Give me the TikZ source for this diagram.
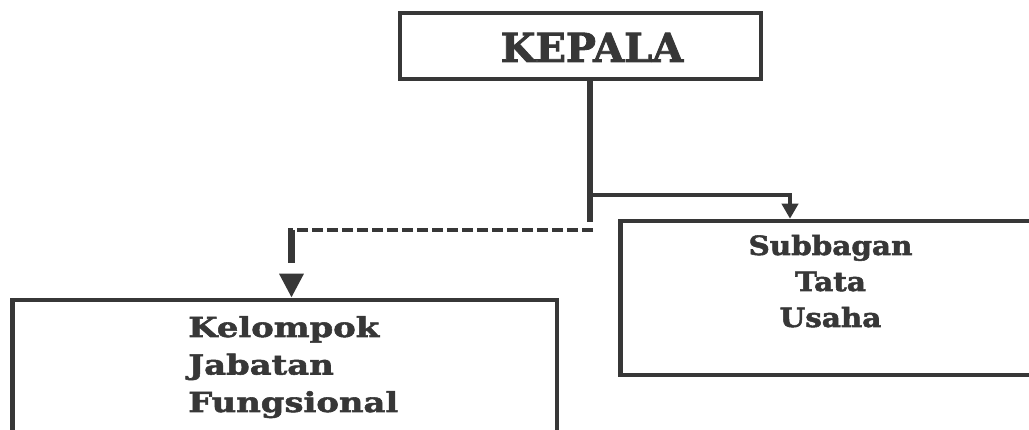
\documentclass[tikz,border=0pt]{standalone}
\usepackage{fontspec}
\usetikzlibrary{arrows.meta}
\newfontfamily\headfont[FakeBold=2]{DejaVu Serif}
\newfontfamily\unitfont[FakeStretch=1.11,FakeBold=2]{DejaVu Serif}
\newfontfamily\kelfont[FakeStretch=1.23,FakeBold=2]{DejaVu Serif}
\definecolor{ink}{RGB}{55,55,55}
\tikzset{
  box/.style={draw=ink, line width=4.5pt, rectangle, inner sep=0pt},
  headtext/.style={text=ink, inner sep=0pt, font=\headfont\bfseries\fontsize{40}{48}\selectfont},
  unittext/.style={text=ink, inner sep=0pt, font=\unitfont\bfseries\fontsize{26.5}{36}\selectfont},
  conn/.style={draw=ink, line width=4pt},
  dashconn/.style={draw=ink, line width=3.5pt, dash pattern=on 11pt off 4pt},
}
\begin{document}
\begin{tikzpicture}[x=1pt,y=-1pt]
\useasboundingbox (0,0) rectangle (1029,430);
\begin{scope}
\clip (0,0) rectangle (1029,430);
% boxes
\node[box, line width=4pt, minimum width=361pt, minimum height=66pt] (kepala) at (580.5,46) {};
\node[box, minimum width=424.5pt, minimum height=154pt] (sub) at (832.75,298) {};
\node[box, minimum width=544.5pt, minimum height=160pt] (kel) at (284.75,380) {};
% texts
\node[headtext, anchor=base] (kepalat) at (592,62) {KEPALA};
\node[unittext, anchor=base] (subt) at (830.5,255)
  {\begin{tabular}[t]{@{}c@{}}Subbagan\\Tata\\Usaha\end{tabular}};
\node[unittext, anchor=base west, font=\kelfont\bfseries\fontsize{27.5}{37.5}\selectfont] (kelt) at (188,337)
  {\begin{tabular}[t]{@{}l@{}}Kelompok\\Jabatan\\Fungsional\end{tabular}};
% junctions
\coordinate (vend) at (590,222);
\coordinate (j1) at (590,195.5);
\coordinate (a) at (790,195.5);
\coordinate (dstart) at (593,230);
\coordinate (bend) at (291.5,230);
% connectors
\draw[conn, line width=6pt] (kepala.south -| vend) -- (vend);
\draw[conn, -{Triangle[length=15pt,width=16pt]}] (j1) -- (a) -- (sub.north -| a);
\draw[dashconn, shorten >=-3.25pt] (dstart) -- (bend);
\draw[conn, line width=6.5pt, dash pattern=on 33pt off 300pt,
  -{Triangle[length=24pt,width=23pt]}] (bend) -- (kel.north -| bend);
\end{scope}
\end{tikzpicture}
\end{document}
